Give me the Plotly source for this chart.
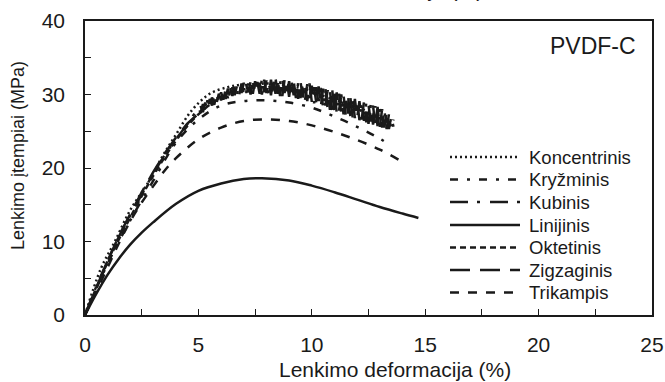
import plotly.graph_objects as go

# ---------------- data ----------------
konc_x = [0, 0.7, 1.3, 2.0, 2.8, 3.4, 4.0, 4.7, 5.5, 6.3, 6.8, 7.5, 8.0, 9.0, 10.0, 11.0, 12.0, 13.0, 13.5]
konc_y = [0, 6.3, 9.9, 14.3, 18.1, 21.5, 24.5, 27.8, 30.1, 31.0, 31.3, 31.4, 31.5, 31.2, 30.5, 29.5, 28.3, 27.0, 26.3]

kryz_x = [0, 1, 2, 3, 4, 5, 6, 7, 8, 9, 10, 11, 12, 13, 13.4]
kryz_y = [0, 7.0, 12.9, 18.2, 23.4, 26.6, 28.5, 29.1, 29.2, 28.9, 28.2, 27.0, 25.6, 24.0, 23.2]

# Kubinis: smooth rise, then noisy part sampled every 0.1 % from 5.0 to 13.6
kub_x_rise = [0, 0.5, 1, 1.5, 2, 2.5, 3, 3.5, 4, 4.5]
kub_y_rise = [0, 3.9, 7.4, 10.7, 13.6, 16.5, 19.2, 21.7, 23.9, 25.9]
kub_y_noisy = [
    28.2, 27.5, 28.7, 27.8, 29.2, 28.3, 29.6, 28.6, 30.0, 29.0,
    30.3, 29.3, 30.7, 29.5, 30.9, 29.8, 31.1, 30.0, 31.4, 30.2,
    31.6, 30.2, 31.5, 30.0, 31.9, 30.3, 31.7, 30.1, 32.1, 30.3,
    31.9, 30.0, 32.0, 29.9, 32.2, 30.1, 31.8, 29.8, 32.0, 30.0,
    31.8, 29.8, 31.9, 29.5, 31.6, 29.5, 31.6, 29.2, 31.4, 29.0,
    31.2, 28.8, 31.0, 28.5, 30.9, 28.2, 30.8, 28.0, 30.5, 27.8,
    30.4, 27.5, 30.2, 27.4, 29.9, 27.1, 29.7, 27.0, 29.5, 26.8,
    29.2, 26.5, 29.0, 26.4, 28.8, 26.0, 28.6, 25.9, 28.4, 25.7,
    28.1, 25.5, 27.9, 25.3, 27.3, 25.4, 26.6,
]
kub_x = kub_x_rise + [round(5.0 + 0.1 * i, 1) for i in range(len(kub_y_noisy))]
kub_y = kub_y_rise + kub_y_noisy

lin_x = [0, 0.5, 1, 1.5, 2, 2.5, 3, 4, 5, 6, 7, 7.8, 9, 10, 11, 12, 13, 14, 14.7]
lin_y = [0, 2.9, 5.5, 7.7, 9.6, 11.2, 12.6, 15.1, 16.9, 17.9, 18.5, 18.6, 18.3, 17.6, 16.7, 15.7, 14.7, 13.8, 13.2]

okt_x = [0, 1, 2, 3, 4, 5, 6, 7, 8, 9, 10, 11, 12, 13, 13.5]
okt_y = [0, 7.2, 13.3, 18.9, 23.7, 27.3, 29.6, 30.7, 31.0, 30.7, 30.2, 29.3, 28.0, 26.8, 26.0]

# Zigzaginis: smooth rise, then noisy part sampled every 0.1 % from 5.0 to 13.6
zig_x_rise = [0, 0.5, 1, 1.5, 2, 2.5, 3, 3.5, 4, 4.5]
zig_y_rise = [0, 3.8, 7.4, 10.8, 13.8, 16.7, 19.4, 21.9, 24.1, 26.0]
zig_y_noisy = [
    27.4, 28.4, 27.6, 28.9, 27.9, 29.4, 28.5, 29.7, 28.8, 30.1,
    29.2, 30.4, 29.4, 30.8, 29.6, 31.0, 29.9, 31.2, 30.0, 31.5,
    30.1, 31.4, 30.3, 31.7, 30.1, 31.8, 30.4, 31.6, 30.0, 32.0,
    30.2, 31.7, 29.9, 32.2, 30.1, 31.9, 29.8, 32.1, 30.2, 31.8,
    29.7, 32.0, 29.9, 31.5, 29.4, 31.8, 29.6, 31.3, 29.1, 31.5,
    29.0, 31.0, 28.8, 31.1, 28.4, 30.8, 28.5, 30.6, 27.9, 30.7,
    27.6, 30.3, 27.8, 30.0, 27.3, 29.8, 27.4, 29.6, 26.9, 29.4,
    26.8, 29.1, 26.6, 29.0, 26.2, 28.6, 26.3, 28.5, 25.8, 28.3,
    25.6, 28.0, 25.5, 27.6, 25.3, 27.0, 25.6,
]
zig_x = zig_x_rise + [round(5.0 + 0.1 * i, 1) for i in range(len(zig_y_noisy))]
zig_y = zig_y_rise + zig_y_noisy

tri_x = [0, 0.5, 1, 1.5, 2, 2.5, 3, 3.5, 4, 5, 6, 7, 8, 9, 10, 11, 12, 13, 13.9]
tri_y = [0, 3.2, 6.5, 9.8, 12.8, 15.3, 17.5, 19.6, 21.3, 23.9, 25.5, 26.4, 26.6, 26.4, 25.8, 24.9, 23.8, 22.5, 21.0]

series_names = ["Koncentrinis", "Kryžminis", "Kubinis", "Linijinis", "Oktetinis", "Zigzaginis", "Trikampis"]
series_x = [konc_x, kryz_x, kub_x, lin_x, okt_x, zig_x, tri_x]
series_y = [konc_y, kryz_y, kub_y, lin_y, okt_y, zig_y, tri_y]
series_dash = ["2px,3px", "8px,9px,3px,9px", "18px,9px,3px,10px", "solid", "6px,4px", "20px,10px", "9px,9px"]
series_noisy = [False, False, True, False, False, True, False]

x_ticks = [0, 5, 10, 15, 20, 25]
y_ticks = [0, 10, 20, 30, 40]

# ---------------- figure ----------------
INK = "#1a1a1a"
LW = 2.5
FONT = "Liberation Sans, Arial, sans-serif"

fig = go.Figure()
for name, xs, ys, dash, noisy in zip(series_names, series_x, series_y, series_dash, series_noisy):
    fig.add_trace(go.Scatter(x=xs, y=ys, mode="lines", name=name,
                             line=dict(color=INK, width=LW, dash=dash,
                                       shape="linear" if noisy else "spline"),
                             showlegend=False))

W, H = 665, 382
L, R, T, B = 85, 13, 21, 67
pw, ph = W - L - R, H - T - B

def px(xp):
    return (xp - L) / pw

def py(yp):
    return (H - B - yp) / ph

# custom legend (long line samples as in the reference)
leg_rows = [157, 179.5, 202, 225, 247.5, 270, 292.5]
shapes = []
annotations = []
for name, dash, yr in zip(series_names, series_dash, leg_rows):
    shapes.append(dict(type="line", xref="paper", yref="paper",
                       x0=px(450), x1=px(520), y0=py(yr), y1=py(yr),
                       line=dict(color=INK, width=LW, dash=dash)))
    annotations.append(dict(xref="paper", yref="paper", x=px(527), y=py(yr),
                            xanchor="left", yanchor="middle", text=name, showarrow=False,
                            font=dict(family=FONT, size=18.5, color=INK)))

annotations.append(dict(xref="paper", yref="paper", x=px(638), y=py(45.5),
                        xanchor="right", yanchor="middle", text="PVDF-C", showarrow=False,
                        font=dict(family=FONT, size=23, color=INK)))
# axis titles
annotations.append(dict(xref="paper", yref="paper", x=px(395), y=py(369),
                        xanchor="center", yanchor="middle", text="Lenkimo deformacija (%)",
                        showarrow=False, font=dict(family=FONT, size=21, color=INK)))
annotations.append(dict(xref="paper", yref="paper", x=px(18), y=py(156),
                        xanchor="center", yanchor="middle", text="Lenkimo įtempiai (MPa)",
                        textangle=-90, showarrow=False, font=dict(family=FONT, size=18, color=INK)))
# text of the panel above, cut by the picture border
annotations.append(dict(xref="paper", yref="paper", x=px(367), y=py(3),
                        xanchor="center", yanchor="bottom", text="Lenkimo deformacija (%)",
                        showarrow=False, font=dict(family=FONT, size=21, color=INK)))

axis_common = dict(showgrid=False, zeroline=False, showline=True, linecolor=INK,
                   linewidth=1.5, mirror=True, ticks="inside", ticklen=6,
                   tickwidth=1.2, tickcolor=INK, automargin=False,
                   tickfont=dict(family=FONT, size=21, color=INK))

fig.update_layout(
    width=W, height=H,
    margin=dict(l=L, r=R, t=T, b=B, autoexpand=False),
    paper_bgcolor="white", plot_bgcolor="white",
    showlegend=False,
    shapes=shapes, annotations=annotations,
    xaxis=dict(range=[0, 25], tickvals=x_ticks,
               minor=dict(ticks="inside", dtick=2.5, tick0=0, ticklen=6, tickwidth=1.2, tickcolor=INK),
               ticklabelstandoff=10, **axis_common),
    yaxis=dict(range=[0, 40], tickvals=y_ticks,
               minor=dict(ticks="inside", dtick=5, tick0=0, ticklen=6, tickwidth=1.2, tickcolor=INK),
               ticklabelstandoff=14, **axis_common),
)

fig.write_html("out.html")
